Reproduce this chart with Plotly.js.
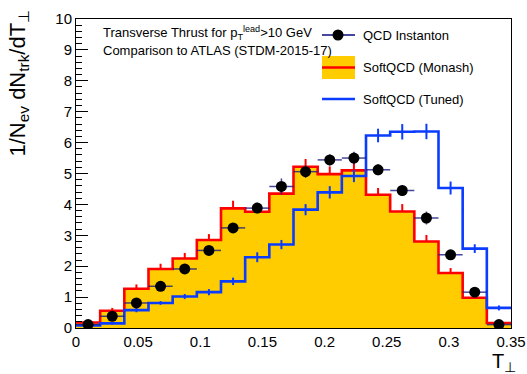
<!DOCTYPE html>
<html>
<head>
<meta charset="utf-8">
<script src="https://cdn.plot.ly/plotly-3.0.1.min.js"></script>
<style>
  html, body { margin: 0; padding: 0; background: #fff; }
  #chart { width: 527px; height: 374px; }
</style>
</head>
<body>
<div id="chart"></div>
<script>
// Binning of the transverse thrust histograms
const binLow = 0.0;
const binHigh = 0.35;
const nBins = 18;

// QCD instanton prediction (points) and its uncertainties
const instanton = [0.11, 0.38, 0.81, 1.35, 1.91, 2.51, 3.24, 3.88, 4.58, 5.06,
                   5.44, 5.50, 5.12, 4.45, 3.56, 2.37, 1.16, 0.11];
const instantonErr = [0.03, 0.06, 0.08, 0.10, 0.12, 0.13, 0.15, 0.17, 0.26, 0.20,
                      0.18, 0.20, 0.18, 0.17, 0.21, 0.14, 0.10, 0.04];

// SoftQCD, Monash tune
const monash = [0.18, 0.56, 1.27, 1.91, 2.25, 2.85, 3.87, 3.76, 4.35, 5.22,
                4.98, 5.10, 4.31, 3.77, 2.80, 1.78, 0.98, 0.16];
const monashErr = [0.05, 0.09, 0.14, 0.17, 0.18, 0.19, 0.25, 0.22, 0.25, 0.25,
                   0.25, 0.25, 0.22, 0.24, 0.21, 0.16, 0.13, 0.05];

// SoftQCD, tuned
const tuned = [0.08, 0.15, 0.58, 0.81, 1.02, 1.16, 1.51, 2.29, 2.70, 3.83,
               4.39, 4.92, 6.23, 6.35, 6.36, 4.53, 2.57, 0.65];
const tunedErr = [0.03, 0.04, 0.07, 0.06, 0.08, 0.10, 0.12, 0.16, 0.15, 0.18,
                  0.20, 0.20, 0.22, 0.25, 0.25, 0.21, 0.14, 0.08];

// Axis tick labels
const xTicks = [0, 0.05, 0.1, 0.15, 0.2, 0.25, 0.3, 0.35];
const xTickText = ['0', '0.05', '0.1', '0.15', '0.2', '0.25', '0.3', '0.35'];
const yTicks = [0, 1, 2, 3, 4, 5, 6, 7, 8, 9, 10];

const binWidth = (binHigh - binLow) / nBins;
const edges = Array.from({length: nBins + 1}, (_, i) => binLow + i * binWidth);
const centers = Array.from({length: nBins}, (_, i) => binLow + (i + 0.5) * binWidth);
const stepY = v => v.concat([v[v.length - 1]]);

const FONT = 'Liberation Sans, Arial, Helvetica, sans-serif';
const RED = '#ff0000';
const BLUE = '#0a3cff';
const GOLD = '#ffcc00';
const NAVY = 'rgba(25,25,130,0.8)';

const traces = [
  { // Monash: filled step histogram
    x: edges, y: stepY(monash), type: 'scatter', mode: 'lines',
    line: {shape: 'hv', color: RED, width: 2.6},
    fill: 'tozeroy', fillcolor: GOLD, hoverinfo: 'skip'
  },
  { // Monash uncertainties
    x: centers, y: monash, type: 'scatter', mode: 'markers',
    marker: {size: 1, color: 'rgba(0,0,0,0)'},
    error_y: {type: 'data', array: monashErr, arrayminus: monashErr.map(() => 0),
              symmetric: false, color: RED, thickness: 2, width: 0}
  },
  { // Tuned: step line
    x: edges, y: stepY(tuned), type: 'scatter', mode: 'lines',
    line: {shape: 'hv', color: BLUE, width: 2.6}, hoverinfo: 'skip'
  },
  { // Tuned uncertainties
    x: centers, y: tuned, type: 'scatter', mode: 'markers',
    marker: {size: 1, color: 'rgba(0,0,0,0)'},
    error_y: {type: 'data', array: tunedErr, color: BLUE, thickness: 2, width: 0}
  },
  { // QCD instanton points
    x: centers, y: instanton, type: 'scatter', mode: 'markers',
    marker: {size: 11, color: '#000000'},
    error_x: {type: 'constant', value: binWidth / 2, color: NAVY, thickness: 1.5, width: 0},
    error_y: {type: 'data', array: instantonErr, color: NAVY, thickness: 1.5, width: 0}
  }
];

// pixel -> paper helpers for the frame-relative decorations
const L = 76, R = 16, T = 19, B = 46, W = 527, H = 374;
const pw = W - L - R, ph = H - T - B;
const px = x => (x - L) / pw;
const py = y => (H - B - y) / ph;

const shapes = [
  // legend symbols
  {type: 'line', xref: 'paper', yref: 'paper', x0: px(322), x1: px(355), y0: py(35), y1: py(35),
   line: {color: NAVY, width: 2}},
  {type: 'circle', xref: 'paper', yref: 'paper', x0: px(332.5), x1: px(343.5), y0: py(40.5), y1: py(29.5),
   fillcolor: '#000', line: {color: '#000', width: 0}},
  {type: 'rect', xref: 'paper', yref: 'paper', x0: px(322), x1: px(355), y0: py(79), y1: py(56),
   fillcolor: GOLD, line: {width: 0}},
  {type: 'line', xref: 'paper', yref: 'paper', x0: px(322), x1: px(355), y0: py(67.5), y1: py(67.5),
   line: {color: RED, width: 2.6}},
  {type: 'line', xref: 'paper', yref: 'paper', x0: px(322), x1: px(355), y0: py(99), y1: py(99),
   line: {color: BLUE, width: 2.6}}
];

const ann = (text, x, y, opts) => Object.assign({
  text: text, xref: 'paper', yref: 'paper', x: px(x), y: py(y),
  showarrow: false, xanchor: 'left', yanchor: 'middle',
  font: {family: FONT, size: 13, color: '#000'}
}, opts || {});

const annotations = [
  ann('Transverse Thrust for p<sub>T</sub><sup>lead</sup>>10 GeV', 101, 33),
  ann('Comparison to ATLAS (STDM-2015-17)', 101, 50),
  ann('QCD Instanton', 361, 35),
  ann('SoftQCD (Monash)', 361, 67),
  ann('SoftQCD (Tuned)', 361, 99),
  ann('1/N<sub>ev</sub> dN<sub>trk</sub>/dT<sub>⊥</sub>', 18, 8,
      {textangle: -90, xanchor: 'center', yanchor: 'top', font: {family: FONT, size: 22, color: '#000'}}),
  ann('T<sub>⊥</sub>', 518, 362,
      {xanchor: 'right', yanchor: 'middle', font: {family: FONT, size: 20, color: '#000'}})
];

const layout = {
  width: W, height: H,
  margin: {l: L, r: R, t: T, b: B, pad: 0},
  paper_bgcolor: '#fff', plot_bgcolor: '#fff',
  showlegend: false,
  font: {family: FONT, color: '#000'},
  xaxis: {
    range: [binLow, binHigh], tickvals: xTicks, ticktext: xTickText,
    ticks: '', showgrid: false, zeroline: false,
    showline: true, linecolor: '#000', linewidth: 1, mirror: true,
    tickfont: {family: FONT, size: 15}, layer: 'above traces'
  },
  yaxis: {
    range: [0, 10], tickvals: yTicks,
    ticks: 'inside', ticklen: 12, tickcolor: '#000', tickwidth: 1,
    minor: {dtick: 0.2, ticks: 'inside', ticklen: 6, tickcolor: '#000', tickwidth: 1},
    showgrid: false, zeroline: false,
    showline: true, linecolor: '#000', linewidth: 1, mirror: true,
    tickfont: {family: FONT, size: 15}, layer: 'above traces'
  },
  shapes: shapes,
  annotations: annotations
};

Plotly.newPlot('chart', traces, layout, {staticPlot: true, displayModeBar: false});
</script>
</body>
</html>
